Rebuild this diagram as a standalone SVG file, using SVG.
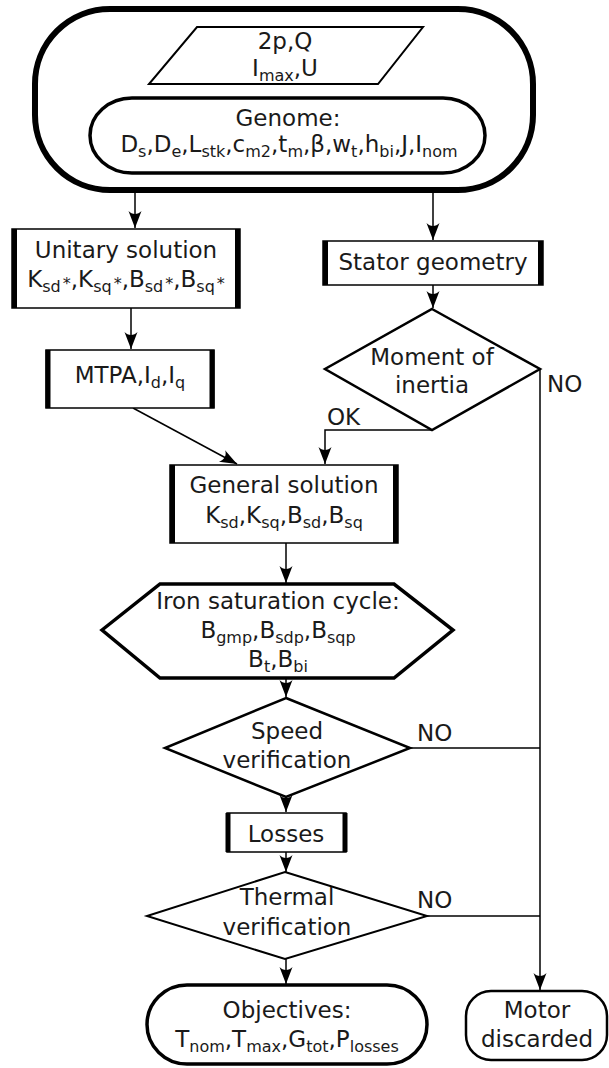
<svg xmlns="http://www.w3.org/2000/svg" width="609" height="1068" viewBox="0 0 609 1068">
<style>
text{font-family:"DejaVu Sans","Verdana",sans-serif;font-size:23px;fill:#1a1a1a;text-anchor:middle}
.lbl{text-anchor:start}
.s{font-size:16px}
.shape{fill:#fff;stroke:#000}
.bar{stroke:#000;stroke-width:5}
.conn{fill:none;stroke:#000;stroke-width:1.5}
</style>
<defs>
<marker id="arr" viewBox="-18 -8 19 16" refX="0" refY="0" markerWidth="19" markerHeight="16" markerUnits="userSpaceOnUse" orient="auto">
<path d="M0,0 L-17,-6.5 C-13,-3 -13,3 -17,6.5 Z" fill="#000"/>
</marker>
</defs>

<g id="connectors">
<path class="conn" d="M135,193 V228" marker-end="url(#arr)"/>
<path class="conn" d="M433,193 V240" marker-end="url(#arr)"/>
<path class="conn" d="M131,308 V349" marker-end="url(#arr)"/>
<path class="conn" d="M133,408 L237,464" marker-end="url(#arr)"/>
<path class="conn" d="M433,285 V308" marker-end="url(#arr)"/>
<path class="conn" d="M432,430 H325 V464" marker-end="url(#arr)"/>
<path class="conn" d="M540,369 V990" marker-end="url(#arr)"/>
<path class="conn" d="M286,543 V583" marker-end="url(#arr)"/>
<path class="conn" d="M286,678 V697" marker-end="url(#arr)"/>
<path class="conn" d="M410,748 H540"/>
<path class="conn" d="M286,797 V812" marker-end="url(#arr)"/>
<path class="conn" d="M286,852 V872" marker-end="url(#arr)"/>
<path class="conn" d="M427,916 H540"/>
<path class="conn" d="M286,959 V984" marker-end="url(#arr)"/>
<text class="lbl" x="327" y="425">OK</text>
<text class="lbl" x="547" y="392">NO</text>
<text class="lbl" x="417" y="741">NO</text>
<text class="lbl" x="417" y="908">NO</text>
</g>

<g id="start">
<rect class="shape" x="35" y="9" width="498" height="181" rx="75" ry="75" stroke-width="6"/>
</g>
<g id="inputs">
<polygon class="shape" points="197,27 423,27 378,84 149,84" stroke-width="2"/>
<text x="285" y="49">2p,Q</text>
<text x="285" y="76">I<tspan class="s" dy="5">max</tspan><tspan dy="-5">,U</tspan></text>
</g>
<g id="genome">
<rect class="shape" x="90" y="98" width="395" height="75" rx="42" ry="37.5" stroke-width="3.5"/>
<text x="288" y="126">Genome:</text>
<text x="289" y="152">D<tspan class="s" dy="5">s</tspan><tspan dy="-5">,D</tspan><tspan class="s" dy="5">e</tspan><tspan dy="-5">,L</tspan><tspan class="s" dy="5">stk</tspan><tspan dy="-5">,c</tspan><tspan class="s" dy="5">m2</tspan><tspan dy="-5">,t</tspan><tspan class="s" dy="5">m</tspan><tspan dy="-5">,β,w</tspan><tspan class="s" dy="5">t</tspan><tspan dy="-5">,h</tspan><tspan class="s" dy="5">bi</tspan><tspan dy="-5">,J,I</tspan><tspan class="s" dy="5">nom</tspan></text>
</g>

<g id="unitary">
<rect class="shape" x="12" y="229" width="228" height="79" stroke-width="1.5"/>
<line class="bar" x1="14.5" y1="229" x2="14.5" y2="308"/>
<line class="bar" x1="237.5" y1="229" x2="237.5" y2="308"/>
<text x="126" y="258">Unitary solution</text>
<text x="126" y="287">K<tspan class="s" dy="5">sd</tspan><tspan class="s" dx="2" dy="-3">*</tspan><tspan dy="-2">,K</tspan><tspan class="s" dy="5">sq</tspan><tspan class="s" dx="2" dy="-3">*</tspan><tspan dy="-2">,B</tspan><tspan class="s" dy="5">sd</tspan><tspan class="s" dx="2" dy="-3">*</tspan><tspan dy="-2">,B</tspan><tspan class="s" dy="5">sq</tspan><tspan class="s" dx="2" dy="-3">*</tspan></text>
</g>

<g id="mtpa">
<rect class="shape" x="46" y="350" width="168" height="58" stroke-width="1.5"/>
<line class="bar" x1="48" y1="350" x2="48" y2="408" stroke-width="4"/>
<line class="bar" x1="212" y1="350" x2="212" y2="408" stroke-width="4"/>
<text x="130" y="383">MTPA,I<tspan class="s" dy="5">d</tspan><tspan dy="-5">,I</tspan><tspan class="s" dy="5">q</tspan></text>
</g>

<g id="stator">
<rect class="shape" x="323" y="241" width="220" height="44" stroke-width="1.5"/>
<line class="bar" x1="325.5" y1="241" x2="325.5" y2="285"/>
<line class="bar" x1="540.5" y1="241" x2="540.5" y2="285"/>
<text x="433" y="270">Stator geometry</text>
</g>

<g id="moment">
<polygon class="shape" points="432,309 540,369 432,430 325,369" stroke-width="2.5"/>
<text x="432" y="365">Moment of</text>
<text x="432" y="393">inertia</text>
</g>

<g id="general">
<rect class="shape" x="170" y="465" width="228" height="78" stroke-width="1.5"/>
<line class="bar" x1="172.5" y1="465" x2="172.5" y2="543"/>
<line class="bar" x1="395.5" y1="465" x2="395.5" y2="543"/>
<text x="284" y="493">General solution</text>
<text x="284" y="523">K<tspan class="s" dy="5">sd</tspan><tspan dy="-5">,K</tspan><tspan class="s" dy="5">sq</tspan><tspan dy="-5">,B</tspan><tspan class="s" dy="5">sd</tspan><tspan dy="-5">,B</tspan><tspan class="s" dy="5">sq</tspan></text>
</g>

<g id="iron">
<polygon class="shape" points="102,630 160,584 394,584 453,630 394,678 160,678" stroke-width="3.5"/>
<text x="278" y="609">Iron saturation cycle:</text>
<text x="278" y="638">B<tspan class="s" dy="5">gmp</tspan><tspan dy="-5">,B</tspan><tspan class="s" dy="5">sdp</tspan><tspan dy="-5">,B</tspan><tspan class="s" dy="5">sqp</tspan></text>
<text x="278" y="667">B<tspan class="s" dy="5">t</tspan><tspan dy="-5">,B</tspan><tspan class="s" dy="5">bi</tspan></text>
</g>

<g id="speed">
<polygon class="shape" points="286,698 410,748 286,797 165,748" stroke-width="2.5"/>
<text x="287" y="739">Speed</text>
<text x="287" y="768">verification</text>
</g>

<g id="losses">
<rect class="shape" x="227" y="813" width="119" height="39" stroke-width="1.5"/>
<line class="bar" x1="228" y1="813" x2="228" y2="852" stroke-width="2.5"/>
<line class="bar" x1="345" y1="813" x2="345" y2="852" stroke-width="2.5"/>
<text x="286" y="842">Losses</text>
</g>

<g id="thermal">
<polygon class="shape" points="285,872 427,916 285,959 147,916" stroke-width="2"/>
<text x="287" y="905">Thermal</text>
<text x="287" y="935">verification</text>
</g>

<g id="objectives">
<rect class="shape" x="147" y="985" width="280" height="79" rx="40" ry="39.5" stroke-width="3.5"/>
<text x="287" y="1018">Objectives:</text>
<text x="287" y="1047">T<tspan class="s" dy="5">nom</tspan><tspan dy="-5">,T</tspan><tspan class="s" dy="5">max</tspan><tspan dy="-5">,G</tspan><tspan class="s" dy="5">tot</tspan><tspan dy="-5">,P</tspan><tspan class="s" dy="5">losses</tspan></text>
</g>

<g id="discarded">
<rect class="shape" x="466" y="991" width="141" height="69" rx="25" ry="25" stroke-width="2.5"/>
<text x="537" y="1018">Motor</text>
<text x="537" y="1047">discarded</text>
</g>
</svg>
